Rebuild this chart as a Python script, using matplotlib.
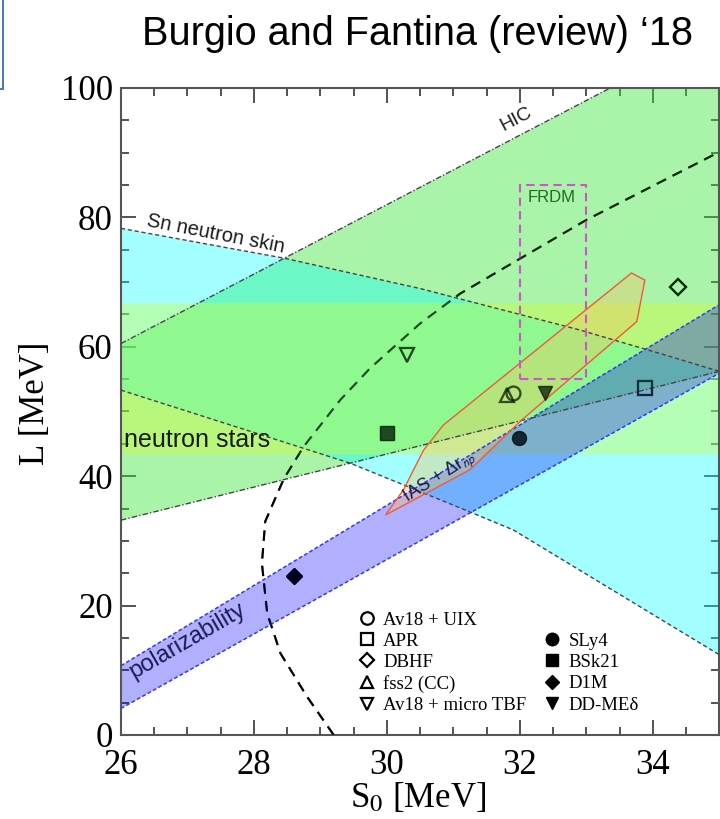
import numpy as np
import matplotlib
matplotlib.use('Agg')
import matplotlib.pyplot as plt
from matplotlib.lines import Line2D
from matplotlib.patches import Rectangle, Polygon

plt.rcParams['mathtext.fontset'] = 'stix'
SERIF = ['Liberation Serif', 'DejaVu Serif']
SANS = ['Liberation Sans', 'DejaVu Sans']

# --- data ---
S_hic = [26.0, 35.0]
L_hic_upper = [60.5, 108.8]
L_hic_lower = [33.2, 56.2]

S_sn_upper = [26.0, 28.45, 30.5, 32.9, 34.26, 35.0]
L_sn_upper = [78.3, 73.7, 69.0, 62.6, 58.5, 56.2]
S_sn_lower = [26.0, 29.45, 31.1, 31.9, 35.0]
L_sn_lower = [53.3, 42.0, 35.1, 31.7, 12.4]

L_ns = [43.5, 66.7]

S_pol = [26.0, 35.0]
L_pol_upper = [10.7, 66.5]
L_pol_lower = [4.1, 55.9]

S_ias = [29.98, 30.25, 30.55, 30.85, 33.68, 33.88, 33.76, 32.03, 31.25]
L_ias = [34.0, 37.9, 44.0, 47.9, 71.4, 70.3, 63.9, 48.7, 41.0]

S_frdm = [32.0, 33.0]
L_frdm = [55.0, 85.0]

S_curve = [29.2, 28.8, 28.4, 28.2, 28.12, 28.17, 28.45, 28.75, 29.3, 29.75,
           30.5, 31.1, 32.0, 33.0, 34.96]
L_curve = [0.0, 5.9, 12.6, 18.8, 26.5, 33.0, 39.6, 44.6, 51.8, 56.7,
           63.6, 68.2, 73.6, 79.6, 89.9]

names_open = ['Av18 + UIX', 'APR', 'DBHF', 'fss2 (CC)', 'Av18 + micro TBF']
marks_open = ['o', 's', 'D', '^', 'v']
S_open = [31.9, 33.88, 34.38, 31.8, 30.3]
L_open = [52.8, 53.7, 69.3, 52.5, 58.8]

names_filled = ['SLy4', 'BSk21', 'D1M', 'DD-MEδ']
marks_filled = ['o', 's', 'D', 'v']
S_filled = [31.98, 30.0, 28.6, 32.38]
L_filled = [45.9, 46.6, 24.6, 52.8]

xticks = [26, 28, 30, 32, 34]
yticks = [0, 20, 40, 60, 80, 100]

fig = plt.figure(figsize=(7.2, 8.19), dpi=100)
ax = fig.add_axes([0.168, 0.1026, 0.831, 0.79])

msize = {'o': 10, 's': 10, 'D': 8, '^': 10, 'v': 10}

# markers and curve drawn under the translucent bands, then again on top
# with partial alpha so they come out tinted like the reference
for z, a in ((1, 1.0), (5, 0.6)):
    for m, s, l in zip(marks_open, S_open, L_open):
        ax.plot(s, l, marker=m, ms=msize[m], mfc='none', mec='black', mew=1.6,
                ls='none', zorder=z, alpha=a)
    for m, s, l in zip(marks_filled, S_filled, L_filled):
        ax.plot(s, l, marker=m, ms=msize[m], mfc='black', mec='black',
                ls='none', zorder=z, alpha=a)
    ax.plot(S_curve, L_curve, color='black', lw=1.5, ls=(0, (5, 3.5)),
            zorder=z, alpha=a)

# bands
ax.fill(np.concatenate([S_hic, S_hic[::-1]]),
        np.concatenate([L_hic_upper, L_hic_lower[::-1]]),
        color=(0.2, 0.9, 0.2), alpha=0.42, lw=0, zorder=2)
ax.fill(np.concatenate([S_sn_upper, S_sn_lower[::-1]]),
        np.concatenate([L_sn_upper, L_sn_lower[::-1]]),
        color=(0.0, 1.0, 1.0), alpha=0.36, lw=0, zorder=2.05)
ax.axhspan(L_ns[0], L_ns[1], color=(0.85, 1.0, 0.1), alpha=0.32, lw=0,
           zorder=2.1)
ax.fill(np.concatenate([S_pol, S_pol[::-1]]),
        np.concatenate([L_pol_upper, L_pol_lower[::-1]]),
        color=(0.0, 0.0, 1.0), alpha=0.31, lw=0, zorder=2.15)
ax.add_patch(Polygon(np.column_stack([S_ias, L_ias]), closed=True,
                     fc=(1.0, 0.75, 0.35), alpha=0.35, lw=0, zorder=2.2))
ax.add_patch(Polygon(np.column_stack([S_ias, L_ias]), closed=True,
                     fill=False, ec='#f05a3a', lw=1.0, zorder=4))

# band edges
for l in (L_hic_upper, L_hic_lower):
    ax.plot(S_hic, l, color='#444444', lw=1.0, ls=(0, (4, 1.5, 1, 1.5)), zorder=3)
ax.plot(S_sn_upper, L_sn_upper, color='#444444', lw=1.0, ls=(0, (3, 2)), zorder=3)
ax.plot(S_sn_lower, L_sn_lower, color='#444444', lw=1.0, ls=(0, (3, 2)), zorder=3)
for l in (L_pol_upper, L_pol_lower):
    ax.plot(S_pol, l, color='#3535ff', lw=1.1, ls=(0, (2.5, 1.5)), zorder=3)

ax.add_patch(Rectangle((S_frdm[0], L_frdm[0]), S_frdm[1] - S_frdm[0],
                       L_frdm[1] - L_frdm[0], fill=False, ec='#cc55cc',
                       lw=1.5, ls=(0, (4, 2.5)), zorder=4))

# labels inside the plot
ax.text(31.95, 95.2, 'HIC', rotation=27.6, ha='center', va='center',
        rotation_mode='anchor', family=SANS, size=14, color='#1a1a1a', zorder=5)
ax.text(27.43, 77.4, 'Sn neutron skin', rotation=-11, ha='center', va='center',
        rotation_mode='anchor', family=SANS, size=14.5, color='#1a1a1a', zorder=5)
ax.text(26.05, 45.6, 'neutron stars', ha='left', va='center',
        family=SANS, size=18, color='#1a1a1a', zorder=5)
ax.text(27.0, 14.6, 'polarizability', rotation=30, ha='center', va='center',
        rotation_mode='anchor', family=SANS, size=17, color='#1a1a55', zorder=5)
ax.text(30.8, 39.7, 'IAS + Δr$_{\\mathsf{np}}$', rotation=32, ha='center',
        va='center', rotation_mode='anchor', family=SANS, size=13,
        color='#1a1a55', zorder=5)
ax.text(32.48, 83.0, 'FRDM', ha='center', va='center', family=SANS, size=12,
        color='#1e6e1e', zorder=5)

# legend
handles = [Line2D([], [], marker=m, ms=msize[m] - 1, mfc='none', mec='black',
                  mew=1.6, ls='none') for m in marks_open]
handles += [Line2D([], [], ls='none')]
handles += [Line2D([], [], marker=m, ms=msize[m] - 1, mfc='black', mec='black',
                   ls='none') for m in marks_filled]
labels = names_open + [''] + names_filled
ax.legend(handles, labels, ncol=2, loc='upper left',
          bbox_to_anchor=(0.396, 0.191), frameon=False, handlelength=0.95,
          handletextpad=0.4, columnspacing=0.9, labelspacing=0.22,
          borderpad=0, borderaxespad=0, prop={'family': SERIF, 'size': 13.5})

ax.set_xlim(26, 34.98)
ax.set_ylim(0, 100)
ax.set_xticks(xticks)
ax.set_yticks(yticks)
ax.set_xticks(np.arange(26, 35.01, 0.5), minor=True)
ax.set_yticks(np.arange(0, 100.1, 5), minor=True)
ax.tick_params(which='both', direction='in', top=True, right=True,
               color='#444444', width=1.3)
ax.tick_params(which='major', length=11)
ax.tick_params(which='minor', length=5.5)
ax.tick_params(axis='x', pad=10)
ax.tick_params(axis='y', pad=6)
for lab in ax.get_xticklabels() + ax.get_yticklabels():
    lab.set_family(SERIF)
    lab.set_fontsize(25)
for sp in ax.spines.values():
    sp.set_color('#555555')
    sp.set_linewidth(1.5)

ax.set_xlabel('S$_0$ [MeV]', family=SERIF, size=25, va='center')
ax.set_ylabel('L [MeV]', family=SERIF, size=25, va='center')
ax.xaxis.set_label_coords(0.497, -0.097)
ax.yaxis.set_label_coords(-0.142, 0.512)

fig.text(0.58, 0.958, 'Burgio and Fantina (review) ‘18', ha='center',
         va='center', family=SANS, size=28.5)
fig.add_artist(Rectangle((-0.02, 1 - 89 / 819), 0.024, 0.12,
                         transform=fig.transFigure, fc='white',
                         ec='#4a7ebb', lw=1.5))

fig.savefig('out.png', dpi=100)
